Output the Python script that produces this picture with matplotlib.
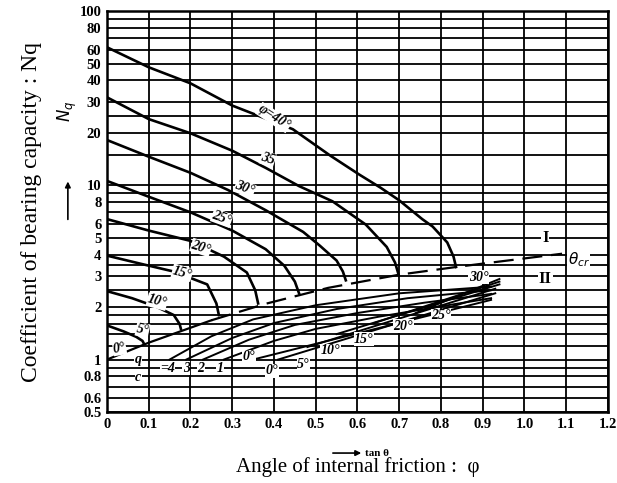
import matplotlib
matplotlib.use("Agg")
import matplotlib.pyplot as plt

plt.rcParams['font.family'] = ['Liberation Serif', 'DejaVu Serif']

# grid and tick values
y_grid = [0.5, 0.6, 0.7, 0.8, 0.9, 1.0, 1.2, 1.4, 1.6, 1.8, 2.0, 2.5, 3.0, 3.5, 4.0,
          5.0, 6.0, 7.0, 8.0, 9.0, 10, 15, 20, 25, 30, 40, 50, 60, 70, 80, 90, 100]
y_ticks = [0.5, 0.6, 0.8, 1, 2, 3, 4, 5, 6, 8, 10, 20, 30, 40, 50, 60, 80, 100]
y_ticklabels = ["0.5", "0.6", "0.8", "1", "2", "3", "4", "5", "6", "8",
                "10", "20", "30", "40", "50", "60", "80", "100"]
x_ticks = [0, 0.1, 0.2, 0.3, 0.4, 0.5, 0.6, 0.7, 0.8, 0.9, 1.0, 1.1, 1.2]
x_ticklabels = ["0", "0.1", "0.2", "0.3", "0.4", "0.5", "0.6", "0.7", "0.8",
                "0.9", "1.0", "1.1", "1.2"]

# main curves Nq vs tan(theta), region I
tan_40 = [0, 0.10, 0.20, 0.30, 0.445, 0.535, 0.605, 0.655, 0.70, 0.755, 0.78, 0.815, 0.83, 0.836]
nq_40 = [62, 47.6, 38.5, 28.7, 21.0, 14.8, 11.5, 9.7, 8.2, 6.4, 5.8, 4.7, 3.9, 3.4]
tan_35 = [0, 0.10, 0.20, 0.30, 0.38, 0.46, 0.54, 0.62, 0.67, 0.69, 0.698]
nq_35 = [32, 24, 19.9, 15.8, 12.6, 9.9, 8.1, 5.95, 4.43, 3.6, 3.1]
tan_30 = [0, 0.10, 0.20, 0.29, 0.38, 0.47, 0.51, 0.55, 0.565, 0.572]
nq_30 = [18.2, 14.6, 11.8, 9.4, 7.2, 5.4, 4.5, 3.7, 3.2, 2.85]
tan_25 = [0, 0.10, 0.20, 0.30, 0.38, 0.425, 0.45, 0.46]
nq_25 = [10.6, 8.6, 7.0, 5.5, 4.3, 3.45, 2.8, 2.4]
tan_20 = [0, 0.10, 0.20, 0.28, 0.335, 0.355, 0.362]
nq_20 = [6.4, 5.5, 4.8, 3.9, 3.16, 2.5, 2.1]
tan_15 = [0, 0.08, 0.16, 0.24, 0.262, 0.268]
nq_15 = [3.95, 3.55, 3.2, 2.7, 2.1, 1.8]
tan_10 = [0, 0.06, 0.12, 0.16, 0.174, 0.177]
nq_10 = [2.47, 2.25, 2.0, 1.8, 1.6, 1.5]
tan_5 = [0, 0.04, 0.07, 0.085, 0.088]
nq_5 = [1.57, 1.45, 1.35, 1.28, 1.24]

# critical angle line
tan_cr = [0, 0.1, 0.25, 0.38, 0.53, 0.70, 0.845, 1.09]
nq_cr = [1.0, 1.25, 1.68, 2.09, 2.58, 3.07, 3.42, 4.05]

# region II : q/c lines
cq_names = ["4", "3", "2", "1"]
tan_cq = [[0.15, 0.25, 0.35, 0.5, 0.7, 0.92],
          [0.19, 0.30, 0.40, 0.55, 0.72, 0.92],
          [0.23, 0.34, 0.45, 0.60, 0.76, 0.92],
          [0.28, 0.40, 0.50, 0.65, 0.80, 0.92]]
nq_cq = [[1.0, 1.36, 1.7, 2.05, 2.4, 2.62],
         [1.0, 1.33, 1.62, 1.95, 2.25, 2.5],
         [1.0, 1.30, 1.58, 1.85, 2.12, 2.38],
         [1.0, 1.28, 1.50, 1.76, 2.02, 2.25]]

# region II : phi lines
phi2_names = ["0°", "5°", "10°", "15°", "20°", "25°"]
tan_phi2 = [[0.35, 0.92], [0.41, 0.93], [0.48, 0.93], [0.55, 0.94], [0.64, 0.94], [0.74, 0.94]]
nq_phi2 = [[1.0, 2.2], [1.0, 2.4], [1.18, 2.55], [1.40, 2.7], [1.62, 2.8], [1.85, 2.9]]
phi2_label_pos = [(0.395, 0.86), (0.47, 0.94), (0.535, 1.12), (0.615, 1.31), (0.71, 1.55), (0.80, 1.78)]

fig = plt.figure(figsize=(6.17, 4.83), dpi=100)
ax = fig.add_axes([0.1734, 0.147, 0.812, 0.830])
ax.set_yscale('log')
ax.set_xlim(0, 1.2)
ax.set_ylim(0.5, 100)

for v in y_grid:
    ax.axhline(v, color='black', lw=1.3, zorder=1)
for t in x_ticks:
    ax.axvline(t, color='black', lw=1.3, zorder=1)

curves = [(tan_40, nq_40), (tan_35, nq_35), (tan_30, nq_30), (tan_25, nq_25),
          (tan_20, nq_20), (tan_15, nq_15), (tan_10, nq_10), (tan_5, nq_5)]
for t, n in curves:
    ax.plot(t, n, color='black', lw=1.9, zorder=3)

ax.plot(tan_cr[:3], nq_cr[:3], color='black', lw=1.6, zorder=3)
ax.plot(tan_cr[2:], nq_cr[2:], color='black', lw=1.6, dashes=(9, 4), zorder=3)

for t, n in zip(tan_cq, nq_cq):
    ax.plot(t, n, color='black', lw=1.4, zorder=3)
for t, n in zip(tan_phi2, nq_phi2):
    ax.plot(t, n, color='black', lw=1.4, zorder=3)

lab = dict(fontsize=10, fontweight='bold', fontstyle='italic', ha='center', va='center',
           zorder=5, bbox=dict(fc='white', ec='none', pad=0.3))
ax.text(0.40, 24.5, "φ=40°", rotation=-33, **lab)
ax.text(0.385, 14.2, "35", rotation=-18, **lab)
ax.text(0.33, 9.6, "30°", rotation=-20, **lab)
ax.text(0.275, 6.5, "25°", rotation=-20, **lab)
ax.text(0.225, 4.4, "20°", rotation=-18, **lab)
ax.text(0.18, 3.15, "15°", rotation=-15, **lab)
ax.text(0.12, 2.15, "10°", rotation=-15, **lab)
ax.text(0.085, 1.48, "5°", rotation=-12, **lab)
ax.text(0.03, 1.16, "0°", rotation=10, **lab)

for name, (x, y) in zip(phi2_names, phi2_label_pos):
    ax.text(x, y, name, **lab)
ax.text(0.34, 1.04, "0°", **lab)
ax.text(0.89, 2.97, "30°", **lab)

ax.text(1.05, 5.0, "I", fontsize=12, fontweight='bold', ha='center', va='center',
        zorder=5, bbox=dict(fc='white', ec='none', pad=0.5))
ax.text(1.05, 2.9, "II", fontsize=12, fontweight='bold', ha='center', va='center',
        zorder=5, bbox=dict(fc='white', ec='none', pad=0.5))
ax.text(1.13, 3.75, r"$\theta_{cr}$", fontsize=11, ha='center', va='center',
        zorder=5, bbox=dict(fc='white', ec='none', pad=0.3))

# q/c legend
ax.text(0.075, 1.0, "q", **lab)
ax.text(0.075, 0.79, "c", **lab)
ax.text(0.145, 0.89, "=4", **lab)
for name, x in zip(cq_names[1:], [0.19, 0.225, 0.27]):
    ax.text(x, 0.89, name, **lab)

ax.set_xticks(x_ticks)
ax.set_xticklabels(x_ticklabels, fontsize=10.5, fontweight='bold')
ax.set_yticks(y_ticks)
ax.set_yticklabels(y_ticklabels, fontsize=10.5, fontweight='bold')
ax.minorticks_off()
ax.tick_params(length=0, pad=4)
for s in ax.spines.values():
    s.set_linewidth(1.8)

ax.set_xlabel("Angle of internal friction :  φ", fontsize=15, labelpad=19)
ax.set_ylabel("Coefficient of bearing capacity : Nq", fontsize=17, labelpad=27)
fig.text(0.592, 0.062, "tan θ", fontsize=8, fontweight='bold', va='center')
ax.annotate("", xy=(0.59, 0.062), xytext=(0.535, 0.062), xycoords='figure fraction',
            annotation_clip=False,
            arrowprops=dict(arrowstyle='-|>', color='black', lw=1.2, mutation_scale=8))
fig.text(0.11, 0.77, r"$N_q$", fontsize=12, fontweight='bold', rotation=90,
         ha='center', va='center')
ax.annotate("", xy=(0.11, 0.63), xytext=(0.11, 0.54), xycoords='figure fraction',
            annotation_clip=False,
            arrowprops=dict(arrowstyle='-|>', color='black', lw=1.2, mutation_scale=8))

fig.savefig("out.png", dpi=100)
